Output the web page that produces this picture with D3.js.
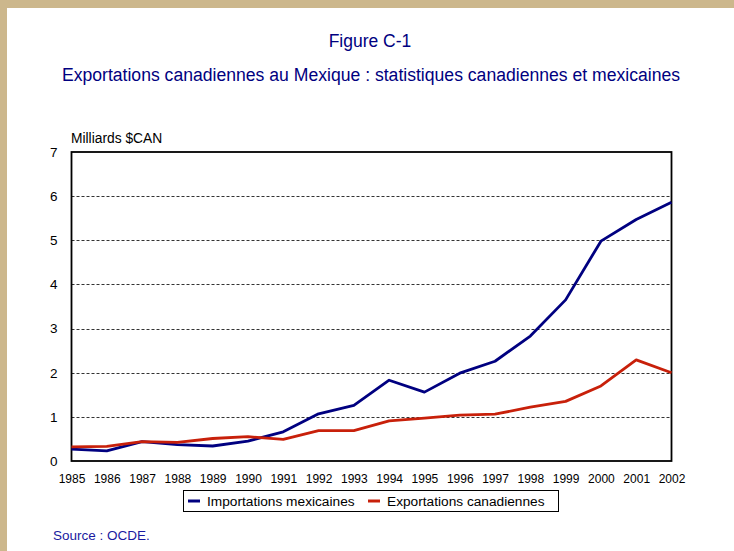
<!DOCTYPE html>
<html><head><meta charset="utf-8">
<script src="https://cdn.jsdelivr.net/npm/d3@7"></script>
<style>
html,body{margin:0;padding:0;background:#fff;}
svg{display:block;}
text{font-family:Arial,"Liberation Sans",sans-serif;}
</style></head>
<body>
<script>
const years = [1985,1986,1987,1988,1989,1990,1991,1992,1993,1994,1995,1996,1997,1998,1999,2000,2001,2002];
const importationsMexicaines = [0.27,0.23,0.44,0.37,0.34,0.45,0.66,1.07,1.26,1.83,1.56,1.99,2.26,2.83,3.65,4.98,5.47,5.86];
const exportationsCanadiennes = [0.32,0.33,0.44,0.42,0.51,0.55,0.49,0.69,0.69,0.91,0.97,1.04,1.06,1.22,1.35,1.70,2.29,2.00];
const yTicks = [0,1,2,3,4,5,6,7];
const seriesNames = ["Importations mexicaines","Exportations canadiennes"];
const seriesColors = ["#000080","#c8200a"];

const W = 734, H = 551;
const svg = d3.select("body").append("svg").attr("width", W).attr("height", H);
svg.append("rect").attr("width", W).attr("height", H).attr("fill", "#ccb78c");
svg.append("rect").attr("x", 7).attr("y", 8).attr("width", W - 7).attr("height", H - 8).attr("fill", "#fff");

const x0 = 71.5, x1 = 671.5, yTop = 152, yBot = 461;
const x = d3.scalePoint().domain(years).range([x0, x1]);
const y = d3.scaleLinear().domain([0, 7]).range([yBot, yTop]);

// titles
svg.append("text").attr("x", 370).attr("y", 47).attr("text-anchor", "middle")
  .attr("font-size", 17.5).attr("fill", "#000080").text("Figure C-1");
svg.append("text").attr("x", 371).attr("y", 81).attr("text-anchor", "middle")
  .attr("font-size", 17.6).attr("fill", "#000080")
  .text("Exportations canadiennes au Mexique : statistiques canadiennes et mexicaines");
svg.append("text").attr("x", 71).attr("y", 143).attr("font-size", 13.8).attr("fill", "#000")
  .text("Milliards $CAN");

// gridlines
svg.append("g").selectAll("line").data(yTicks.filter(d => d > 0 && d < 7)).join("line")
  .attr("x1", x0).attr("x2", x1).attr("y1", d => Math.round(y(d)) + 0.5).attr("y2", d => Math.round(y(d)) + 0.5)
  .attr("stroke", "#333").attr("stroke-width", 1).attr("stroke-dasharray", "3,2");

// y axis
const yAxis = d3.axisLeft(y).tickValues(yTicks).tickSize(0).tickPadding(14).tickFormat(d3.format("d"));
const gy = svg.append("g").attr("transform", `translate(${x0},0)`).call(yAxis);
gy.select(".domain").remove();
gy.selectAll("text").attr("font-size", 13.5).attr("fill", "#000").attr("font-family", "Arial, 'Liberation Sans', sans-serif");

// x axis
const xAxis = d3.axisBottom(x).tickSize(0).tickPadding(13);
const gx = svg.append("g").attr("transform", `translate(0,${yBot})`).call(xAxis);
gx.select(".domain").remove();
gx.selectAll("text").attr("font-size", 12).attr("fill", "#000").attr("font-family", "Arial, 'Liberation Sans', sans-serif");

// frame
svg.append("rect").attr("x", x0).attr("y", yTop).attr("width", x1 - x0).attr("height", yBot - yTop)
  .attr("fill", "none").attr("stroke", "#000").attr("stroke-width", 1.8);

// lines
const line = d3.line().x((d, i) => x(years[i])).y(d => y(d));
[importationsMexicaines, exportationsCanadiennes].forEach((s, k) => {
  svg.append("path").datum(s).attr("d", line).attr("fill", "none")
    .attr("stroke", seriesColors[k]).attr("stroke-width", 2.8).attr("stroke-linejoin", "round");
});

// legend
const lg = svg.append("g");
lg.append("rect").attr("x", 183.5).attr("y", 490.5).attr("width", 375).attr("height", 21)
  .attr("fill", "#fff").attr("stroke", "#000").attr("stroke-width", 1);
const legX = [188, 368];
seriesNames.forEach((n, k) => {
  lg.append("line").attr("x1", legX[k]).attr("x2", legX[k] + 12).attr("y1", 501).attr("y2", 501)
    .attr("stroke", seriesColors[k]).attr("stroke-width", 3);
  lg.append("text").attr("x", legX[k] + 19).attr("y", 506).attr("font-size", 13.7).attr("fill", "#000").text(n);
});

svg.append("text").attr("x", 53).attr("y", 540).attr("font-size", 13.5).attr("fill", "#1a1aa0").text("Source : OCDE.");
</script>
</body></html>
